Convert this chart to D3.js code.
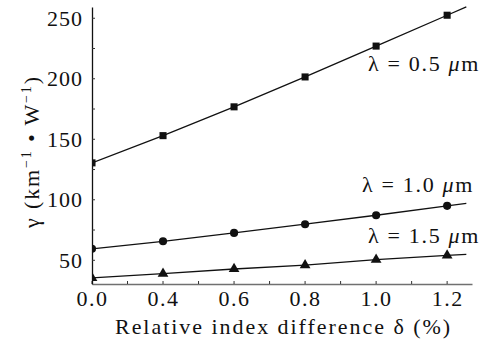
<!DOCTYPE html>
<html><head><meta charset="utf-8">
<script src="https://cdn.jsdelivr.net/npm/d3@7"></script>
<style>body{margin:0;background:#fff}svg{display:block}</style>
</head><body><svg id="c" width="485" height="343"></svg>
<script>
const deltaLabels = ["0.0","0.4","0.6","0.8","1.0","1.2"];
const gamma05 = [130.5, 153, 176.8, 201.5, 227, 252.5];
const gamma10 = [59.5, 65.7, 72.6, 79.8, 87.2, 95];
const gamma15 = [35.4, 39, 42.8, 46, 50.5, 54];
const yTicks = [50, 100, 150, 200, 250];
const yMinor = [75, 125, 175, 225];
const seriesNames = ["λ = 0.5 ", "λ = 1.0 ", "λ = 1.5 "];

const FS = 22;
const FONT = "Liberation Serif";
const svg = d3.select("#c");
const x = d3.scaleLinear().domain([0, 5.35]).range([92, 472]);
const y = d3.scaleLinear().domain([30.4, 259.3]).range([284, 7]);

function serif(sel) {
  return sel.attr("font-family", FONT).style("font-family", "'Liberation Serif'").attr("fill", "#111");
}
function fitWidth(sel, target) {
  const node = sel.node();
  const w = node.getComputedTextLength();
  const n = node.textContent.length;
  if (n > 1) sel.attr("letter-spacing", ((target - w) / n).toFixed(2));
}

svg.append("defs").append("clipPath").attr("id","clip")
  .append("rect").attr("x",92).attr("y",0).attr("width",385).attr("height",284);

// axes
const xAxis = d3.axisBottom(x).tickValues(d3.range(deltaLabels.length))
  .tickFormat(i => deltaLabels[i]).tickSize(0).tickPadding(6);
const gx = svg.append("g").attr("transform","translate(0,284)").call(xAxis);
gx.attr("font-family",FONT).attr("font-size",FS);
gx.select(".domain").attr("stroke","#707070").attr("stroke-width",1.6);
serif(gx.selectAll("text")).attr("font-size",FS).attr("letter-spacing",1.5);
const xt = d3.range(deltaLabels.length).concat(d3.range(0.5, 5, 1));
svg.append("g").selectAll("line").data(xt).join("line")
  .attr("x1",d=>x(d)).attr("x2",d=>x(d)).attr("y1",284).attr("y2",281)
  .attr("stroke","#333").attr("stroke-width",1);

const yAxis = d3.axisLeft(y).tickValues(yTicks).tickSize(0).tickPadding(9);
const gy = svg.append("g").attr("transform","translate(92,0)").call(yAxis);
gy.attr("font-family",FONT).attr("font-size",FS);
gy.select(".domain").attr("stroke","#111").attr("stroke-width",1.3);
serif(gy.selectAll("text")).attr("font-size",FS).attr("letter-spacing",1);
svg.append("g").selectAll("line").data(yTicks.concat(yMinor)).join("line")
  .attr("x1",92).attr("x2",95).attr("y1",d=>y(d)).attr("y2",d=>y(d))
  .attr("stroke","#333").attr("stroke-width",1);

// series
const series = [gamma05, gamma10, gamma15];
const shapes = [d3.symbolSquare, d3.symbolCircle, d3.symbolTriangle];
const sizes = [50, 52, 50];
const plot = svg.append("g").attr("clip-path","url(#clip)");
const xEnd = 5.27;
series.forEach((s, k) => {
  const n = s.length;
  const slope = s[n-1] - s[n-2];
  const pts = s.map((v,i)=>[i,v]).concat([[xEnd, s[n-1] + slope*(xEnd-(n-1))]]);
  plot.append("path").datum(pts)
    .attr("d", d3.line().x(d=>x(d[0])).y(d=>y(d[1])))
    .attr("fill","none").attr("stroke","#111").attr("stroke-width",1.3);
  plot.selectAll(null).data(s).join("path")
    .attr("transform",(d,i)=>`translate(${x(i)},${y(d)})`)
    .attr("d", d3.symbol().type(shapes[k]).size(sizes[k]))
    .attr("fill","#111");
});

// annotations
const annPos = [[368, 71], [362, 192], [368, 243]];
seriesNames.forEach((t,k)=>{
  const tx = serif(svg.append("text")).attr("x",annPos[k][0]).attr("y",annPos[k][1])
    .attr("font-size",FS);
  tx.append("tspan").text(t);
  tx.append("tspan").attr("font-style","italic").text("μ");
  tx.append("tspan").text("m");
  fitWidth(tx, 112);
});

// axis titles
const xl = serif(svg.append("text")).attr("x",115).attr("y",334)
  .attr("font-size",FS).text("Relative index difference δ (%)");
fitWidth(xl, 337);
const yl = serif(svg.append("text")).attr("transform","translate(39,228) rotate(-90)")
  .attr("font-size",FS);
yl.append("tspan").text("γ (km");
yl.append("tspan").attr("font-size",14).attr("dy",-8).text("−1");
yl.append("tspan").attr("dy",8).text(" • W");
yl.append("tspan").attr("font-size",14).attr("dy",-8).text("−1");
yl.append("tspan").attr("dy",8).text(")");
fitWidth(yl, 153);
</script></body></html>
